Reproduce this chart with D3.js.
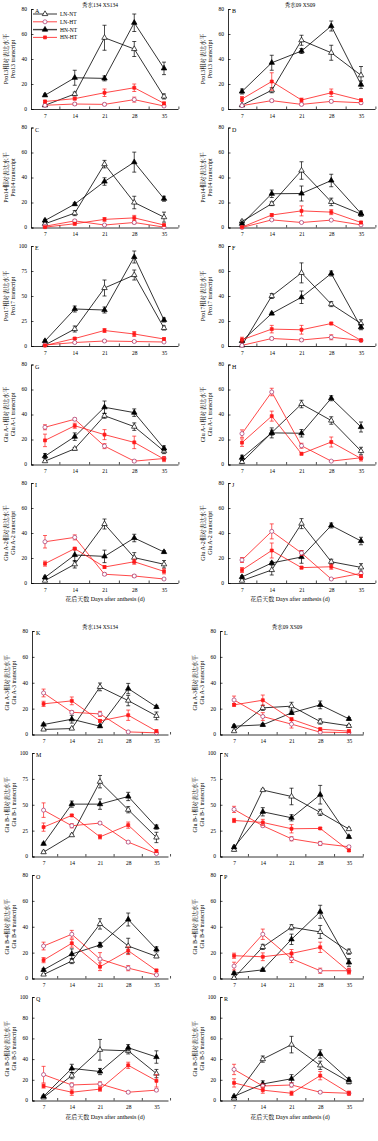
<!DOCTYPE html>
<html><head><meta charset="utf-8">
<script src="https://cdn.jsdelivr.net/npm/d3@7"></script>
<style>body{margin:0;background:#fff}svg{display:block}</style>
</head><body>
<svg id="c" width="378" height="1141"></svg>
<script>
// ---------------- data ----------------
const days = [7, 14, 21, 28, 35];
const seriesNames = ["LN-NT", "LN-HT", "HN-NT", "HN-HT"];
const cultivars = ["秀水134 XS134", "秀水09 XS09"];
const genes = ["Pro13", "Pro14", "Pro17", "Glu A-1", "Glu A-2", "Glu A-3", "Glu B-1", "Glu B-4", "Glu B-5"];
const panelLetters = ["A","B","C","D","E","F","G","H","I","J","K","L","M","N","O","P","Q","R"];
const yTicks80 = [0, 20, 40, 60, 80];
const yTicks100q = [0, 25, 50, 75, 100];
const yTicks100 = [0, 20, 40, 60, 80, 100];
const xTitle = "花后天数 Days after anthesis (d)";

// series order in each array: LN-NT, LN-HT, HN-NT, HN-HT
const A_mean = [[3,12,57,48,10],[3,4,3.7,7.5,2.4],[11,25,24.5,69,32.5],[6,8.3,13,17,4.5]];
const A_err  = [[0.5,1.5,10,6,2],[1,1,1,2,0.5],[1,6,2,7,5],[1,1,3,3,1]];
const B_mean = [[3,15,55,45,27],[2.7,6.7,3.7,6.1,5],[14,37,46.4,66.4,19.5],[8,22,7.2,13,7]];
const B_err  = [[0.5,2,4,6,7],[0.5,1,1,1,1],[2,6,2,4,3],[2,7,1.5,3,1]];
const C_mean = [[3,11.5,50.7,20,8.3],[1,5.3,2,4,0.3],[5.6,18.7,36.8,52.3,23],[0.3,3,6.5,7.7,2]];
const C_err  = [[1,2,3,5,4],[0.5,1,0.5,1,0.3],[1,1,3,8,2],[0.3,1,1.5,2,0.5]];
const D_mean = [[4.8,19,45.6,20.5,10.7],[0,6.1,4,5.9,2.1],[3,27,27.2,37.6,11.2],[0.3,10,13.3,12.3,4]];
const D_err  = [[1,1.5,7,3,1.5],[0.3,0.5,0.5,0.5,0.5],[1,3,6,5,2],[0.3,1,4,2,1]];
const E_mean = [[1,17,58,71,18],[1,3.5,5,4.5,4],[5,37,36,89,26],[0.5,7.5,15.5,12,7]];
const E_err  = [[0.5,3,8,5,2],[0.5,0.5,1,1,0.5],[1,3,3,6,2],[0.5,1,2,2.5,1]];
const F_mean = [[0.5,40,58.5,33.5,18],[0.5,6,4.8,7,4.5],[4,26,39,58,15],[5,13.5,13,18,4.5]];
const F_err  = [[0.5,2,8,2,3],[0.3,1,1,2,0.5],[1,1,5,2,2],[2,3,3.5,1,1]];
const G_mean = [[2.7,12.6,39,30.3,10.7],[29.8,36.2,14.7,2.7,4.8],[6.7,22.3,45.8,41.5,12.9],[19.3,31,23.9,17.7,4.3]];
const G_err  = [[0.5,1,2,3,2],[2,1,2,1,1],[2,3,5,3,2],[5,2,4,5,2]];
const H_mean = [[2,25.5,48.4,35.2,10.8],[24.7,58,15,2.7,5.4],[5.4,25.3,25,53,30],[17.5,38.7,8.6,18,4.8]];
const H_err  = [[1,2,3,3,3],[3,3,2,0.5,1],[2,4,3,2,4],[3,4,1,4,2]];
const I_mean = [[1.9,15,47.2,20.3,15],[33,36.5,7,5.6,3.2],[4.5,22.4,21.3,36,24.8],[15.5,27.5,12.8,17,9.3]];
const I_err  = [[0.5,3,4,4,3],[5,2,1,1,0.5],[1,5,5,3,1],[2,1,1,2,2]];
const J_mean = [[1.9,10.4,47.5,17,12.5],[18.4,41.3,24,3.2,7.7],[4.8,16,20.8,46,33.6],[10.4,26,12.3,13,5.6]];
const J_err  = [[0.5,4,4,2,3],[2,6,2,0.5,1],[1,1,5,2,3],[2,6,1,2,1]];
const K_mean = [[3.9,4.6,36.8,26.2,14.4],[32.1,17.2,15.9,2,1.3],[7.7,11.8,6.4,35.5,21.3],[23.7,26,10.5,14.9,2.6]];
const K_err  = [[0.5,0.5,3,4,3],[3,1,2,0.5,0.5],[1,3,1,4,1],[2,3,1,4,1]];
const L_mean = [[2.6,20.6,21.9,10,6.7],[26.7,13.9,8,1.8,1.5],[6.4,7.5,16.7,22.9,12.1],[22.9,26.5,11.8,4.1,2.6]];
const L_err  = [[0.5,2,3,2,1],[3,3,3,0.5,0.5],[1,1,1,3,1],[1,4,1,1,1]];
const M_mean = [[4.2,20.6,72.3,45.2,18.4],[44.8,29.7,32.3,13.9,2.9],[12.3,50.6,50.6,58,28.4],[28.4,39.7,19,30.3,5.2]];
const M_err  = [[1,1,6,3,5],[7,2,1,1,0.5],[1,3,5,4,2],[4,1,2,3,1]];
const N_mean = [[6.5,64.2,58,42.6,26.5],[45.5,29.7,17.1,12.6,9.4],[9,43.2,37.4,59.7,19],[34.8,32.9,26.8,27.1,5.8]];
const N_err  = [[1,1,8,3,1],[3,1,2,2,1],[1,4,3,9,1],[2,3,4,1,1]];
const O_mean = [[3.1,13.5,42.2,25.1,17.1],[25.1,34.2,15,8,2.8],[6.7,18.9,25.9,45.6,22.5],[14.2,27.2,9.1,21.5,6.2]];
const O_err  = [[0.5,2,4,6,1],[3,3,5,2,0.5],[1,4,2,5,2],[2,3,3,3,1]];
const P_mean = [[0.5,24.4,39.6,36,20.7],[9.6,34.2,15.3,6,6],[4.1,6.7,30.3,51.6,12.4],[17.6,16.8,19.4,24.1,5.4]];
const P_err  = [[0.5,2,2,5,2],[3,4,3,2,2],[1,1,4,5,3],[2,3,3,4,2]];
const Q_mean = [[3,24,49,48,26],[25,15,16,8,10],[4,31,28,51,42],[14,8,11,34,19]];
const Q_err  = [[1,3,10,3,4],[8,2,2,1,1],[1,4,3,3,6],[2,3,2,3,6]];
const R_mean = [[2,40,54,34,18],[30,14,15,8,7],[4,16,21,45,20],[17,10,7,24,7]];
const R_err  = [[1,3,8,4,2],[5,2,2,1,1],[1,3,4,4,2],[4,3,2,4,2]];

const panelMeans = [A_mean,B_mean,C_mean,D_mean,E_mean,F_mean,G_mean,H_mean,I_mean,J_mean,K_mean,L_mean,M_mean,N_mean,O_mean,P_mean,Q_mean,R_mean];
const panelErrs  = [A_err,B_err,C_err,D_err,E_err,F_err,G_err,H_err,I_err,J_err,K_err,L_err,M_err,N_err,O_err,P_err,Q_err,R_err];
const panelTicks = [yTicks80,yTicks80,yTicks80,yTicks80,yTicks100q,yTicks80,yTicks80,yTicks80,yTicks80,yTicks80,
                    yTicks80,yTicks80,yTicks100q,yTicks100q,yTicks80,yTicks80,yTicks100,yTicks100];

// ---------------- drawing ----------------
const svg = d3.select("#c");
const FONT = "'Liberation Serif','Times New Roman','Noto Serif CJK SC','Noto Sans CJK SC',serif";
const RED = "#ff1a1a", CIRC = "#a3306c";

const styles = [
  {line:"#000", err:"#000", sym:d3.symbolTriangle, size:13, fill:"#fff", stroke:"#000"},
  {line:RED, err:RED, sym:d3.symbolCircle, size:13, fill:"#fff", stroke:CIRC},
  {line:"#000", err:"#000", sym:d3.symbolTriangle, size:13, fill:"#000", stroke:"#000"},
  {line:RED, err:RED, sym:d3.symbolSquare, size:9, fill:RED, stroke:RED}
];
const drawOrder = [0, 2, 1, 3];

function geom(p) {
  const row = Math.floor(p / 2), col = p % 2;
  if (row < 5) {
    return {x0: col ? 228 : 31, x1: col ? 375 : 178, top: 9 + row * 118.5, h: 100, pad: 0.47};
  }
  return {x0: col ? 220 : 32, x1: col ? 363 : 168, top: 631 + (row - 5) * 122, h: 103.5, pad: col ? 0.49 : 0.41};
}

panelMeans.forEach((means, p) => {
  const g = geom(p), row = Math.floor(p / 2), col = p % 2;
  const ticks = panelTicks[p];
  const ymax = ticks[ticks.length - 1];
  const bottom = g.top + g.h;
  const x = d3.scalePoint().domain(days).range([g.x0, g.x1]).padding(g.pad);
  const y = d3.scaleLinear().domain([0, ymax]).range([bottom, g.top]);
  const G = svg.append("g");

  // y axis (line + ticks from the axis generator, labels drawn explicitly)
  const ya = G.append("g").attr("transform", `translate(${g.x0},0)`)
    .call(d3.axisLeft(y).tickValues(ticks).tickSize(-2.5).tickFormat(""));
  ya.select(".domain").attr("stroke", "#000").attr("stroke-width", 0.8);
  ya.selectAll(".tick line").attr("stroke", "#000").attr("stroke-width", 0.7);
  G.selectAll(null).data(ticks).enter().append("text")
    .attr("x", g.x0 - 4).attr("y", d => y(d)).attr("dy", "0.35em")
    .attr("text-anchor", "end").attr("font-family", FONT).attr("font-size", 5.5)
    .attr("fill", "#000").text(d => d);

  // x axis
  const xa = G.append("g").attr("transform", `translate(0,${bottom})`)
    .call(d3.axisBottom(x).tickSize(0).tickPadding(5));
  xa.select(".domain").attr("stroke", "#000").attr("stroke-width", 0.8);
  xa.selectAll(".tick text").attr("font-family", FONT).attr("font-size", 5.5).attr("fill", "#000");
  const step = x.step();
  const mids = days.map(d => x(d) + step / 2);
  G.selectAll(null).data(mids).enter().append("line")
    .attr("x1", d => d).attr("x2", d => d).attr("y1", bottom).attr("y2", bottom - 2.5)
    .attr("stroke", "#000").attr("stroke-width", 0.7);

  // y label
  const yc = g.top + g.h / 2;
  const gene = genes[row];
  [[gene + "相对表达水平", g.x0 - 25], [gene + " transcript", g.x0 - 18]].forEach(([t, xx]) => {
    G.append("text").attr("transform", `translate(${xx},${yc}) rotate(-90)`)
      .attr("text-anchor", "middle").attr("dominant-baseline", "central")
      .attr("font-family", FONT).attr("font-size", 6).attr("fill", "#000").text(t);
  });

  // panel letter
  G.append("text").attr("x", g.x0 + 4).attr("y", g.top + 4)
    .attr("font-family", FONT).attr("font-size", 6).attr("fill", "#000").text(panelLetters[p]);

  // series
  const errs = panelErrs[p];
  drawOrder.forEach(s => {
    const st = styles[s];
    const pts = days.map((d, i) => ({d, v: means[s][i], e: errs[s][i]}));
    G.append("path").datum(pts)
      .attr("d", d3.line().x(q => x(q.d)).y(q => y(q.v)))
      .attr("fill", "none").attr("stroke", st.line).attr("stroke-width", 0.8);
    const eb = G.append("g").attr("stroke", st.err).attr("stroke-width", 0.7);
    pts.forEach(q => {
      const yt = y(q.v + q.e), yb = y(Math.max(0, q.v - q.e)), xx = x(q.d);
      eb.append("line").attr("x1", xx).attr("x2", xx).attr("y1", yt).attr("y2", yb);
      eb.append("line").attr("x1", xx - 2).attr("x2", xx + 2).attr("y1", yt).attr("y2", yt);
      eb.append("line").attr("x1", xx - 2).attr("x2", xx + 2).attr("y1", yb).attr("y2", yb);
    });
    G.selectAll(null).data(pts).enter().append("path")
      .attr("transform", q => `translate(${x(q.d)},${y(q.v)})`)
      .attr("d", d3.symbol().type(st.sym).size(st.size))
      .attr("fill", st.fill).attr("stroke", st.stroke).attr("stroke-width", 0.7);
  });

  // cultivar titles
  if (row === 0 || row === 5) {
    G.append("text").attr("x", col ? (row === 0 ? 300 : 287) : 100).attr("y", g.top - 2.5)
      .attr("text-anchor", "middle").attr("font-family", FONT).attr("font-size", 5.5)
      .attr("fill", "#000").text(cultivars[col]);
  }
  // x title
  if (row === 4 || row === 8) {
    G.append("text").attr("x", col ? 290 : 105).attr("y", bottom + 18)
      .attr("text-anchor", "middle").attr("font-family", FONT).attr("font-size", 6)
      .attr("fill", "#000").text(xTitle);
  }

  // legend (panel A only)
  if (p === 0) {
    seriesNames.forEach((name, s) => {
      const st = styles[s];
      const ly = g.top + 5 + s * 7.8;
      G.append("line").attr("x1", g.x0 + 2).attr("x2", g.x0 + 26).attr("y1", ly).attr("y2", ly)
        .attr("stroke", s === 2 ? "#444" : st.line).attr("stroke-width", s === 2 ? 1.4 : 0.8);
      G.append("path").attr("transform", `translate(${g.x0 + 14},${ly})`)
        .attr("d", d3.symbol().type(st.sym).size(st.size))
        .attr("fill", st.fill).attr("stroke", st.stroke).attr("stroke-width", 0.7);
      G.append("text").attr("x", g.x0 + 29).attr("y", ly).attr("dominant-baseline", "central")
        .attr("font-family", FONT).attr("font-size", 5.5).attr("fill", "#000").text(name);
    });
  }
});
</script>
</body></html>
